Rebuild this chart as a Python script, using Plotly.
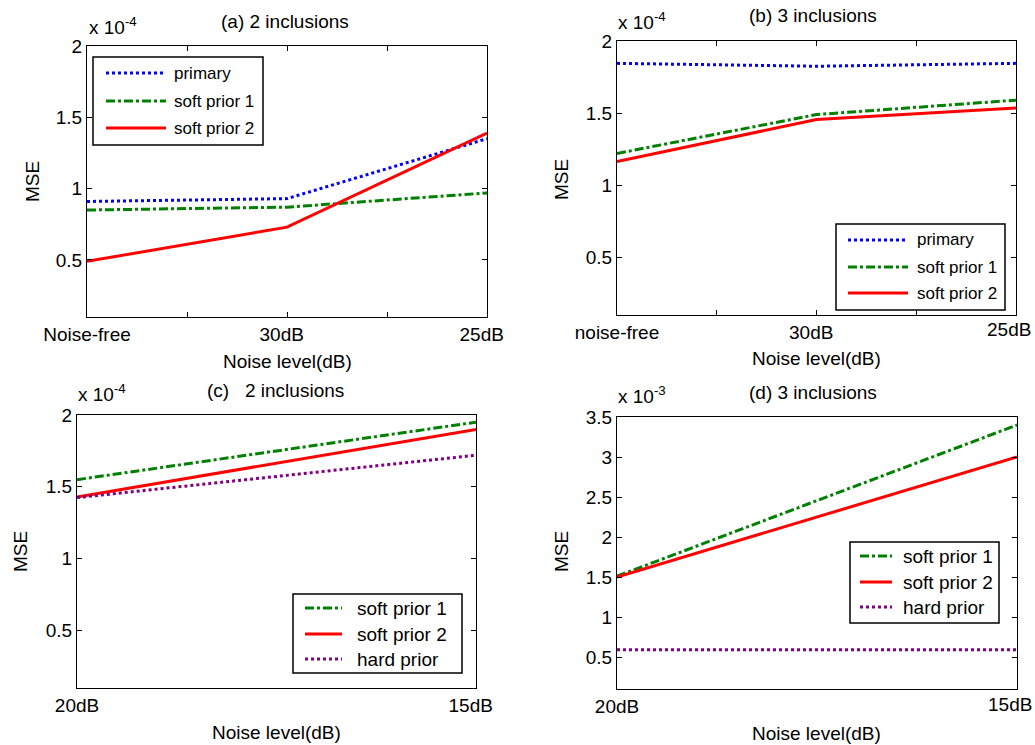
import plotly.graph_objects as go
import numpy as np

# ---------------- data ----------------
NB = "\u00a0"
x_ab = [1, 2, 3]
x_ab_minor = [1.5, 2.5]
x_a_labels = ["Noise-free", "30dB" + NB * 2, "25dB" + NB * 2]
x_b_labels = ["noise-free", "30dB" + NB * 2, "25dB"]
x_cd = [1, 2]
x_c_labels = ["20dB", "15dB" + NB * 2]
x_d_labels = ["20dB", "15dB"]

# (a) 2 inclusions  (MSE)
a_primary = [0.91e-4, 0.93e-4, 1.35e-4]
a_soft1 = [0.85e-4, 0.87e-4, 0.97e-4]
a_soft2 = [0.49e-4, 0.73e-4, 1.39e-4]
# (b) 3 inclusions
b_primary = [1.845e-4, 1.825e-4, 1.845e-4]
b_soft1 = [1.22e-4, 1.49e-4, 1.59e-4]
b_soft2 = [1.165e-4, 1.455e-4, 1.535e-4]
# (c) 2 inclusions
c_soft1 = [1.55e-4, 1.95e-4]
c_soft2 = [1.43e-4, 1.90e-4]
c_hard = [1.425e-4, 1.72e-4]
# (d) 3 inclusions
d_soft1 = [1.51e-3, 3.40e-3]
d_soft2 = [1.50e-3, 3.00e-3]
d_hard = [0.59e-3, 0.59e-3]

y_ticks_e4 = [0.5, 1, 1.5, 2]
y_ticks_e3 = [0.5, 1, 1.5, 2, 2.5, 3, 3.5]

FONT = "Liberation Sans, Arial, sans-serif"
FS = 19
W, H = 1035, 745

def px_x(a, b):
    return [a / W, b / W]

def px_y(top, bottom):
    return [1 - bottom / H, 1 - top / H]

dom = {
    "a": (px_x(87, 487), px_y(46, 317)),
    "b": (px_x(617, 1016), px_y(41, 315)),
    "c": (px_x(77, 476), px_y(415, 688)),
    "d": (px_x(617, 1017), px_y(417, 689)),
}

BLUE, GREEN, RED, PURPLE = "#0000FF", "#008000", "#FF0000", "#800080"
styles = {
    "primary": dict(color=BLUE, dash="dot", width=3),
    "soft prior 1": dict(color=GREEN, dash="dashdot", width=3),
    "soft prior 2": dict(color=RED, dash="solid", width=3),
    "hard prior": dict(color=PURPLE, dash="dot", width=3),
}

legend_geom = {
    "a": dict(box=(93, 263, 57, 145), sx=(106, 166), tx=172, rows=(73, 101, 128), fs=17),
    "b": dict(box=(836, 1005, 224, 310), sx=(848, 908), tx=915, rows=(240, 267, 293), fs=17),
    "c": dict(box=(293, 462, 594, 673), sx=(305, 342), tx=355, rows=(608, 634, 659), fs=19),
    "d": dict(box=(850, 999, 542, 623), sx=(860, 892), tx=901, rows=(556, 582, 607), fs=19),
}

fig = go.Figure()

panels = [
    ("a", "", 1e-4, x_ab, [("primary", a_primary), ("soft prior 1", a_soft1), ("soft prior 2", a_soft2)]),
    ("b", "2", 1e-4, x_ab, [("primary", b_primary), ("soft prior 1", b_soft1), ("soft prior 2", b_soft2)]),
    ("c", "3", 1e-4, x_cd, [("soft prior 1", c_soft1), ("soft prior 2", c_soft2), ("hard prior", c_hard)]),
    ("d", "4", 1e-3, x_cd, [("soft prior 1", d_soft1), ("soft prior 2", d_soft2), ("hard prior", d_hard)]),
]

for key, s, scale, xv, series in panels:
    for name, vals in series:
        fig.add_trace(go.Scatter(
            x=xv, y=np.array(vals) / scale, mode="lines", name=name,
            line=styles[name], xaxis="x" + s, yaxis="y" + s, showlegend=False,
        ))

axis_common = dict(
    showline=True, linecolor="black", linewidth=1, mirror="allticks",
    ticks="inside", ticklen=5, tickcolor="black", showgrid=False, zeroline=False,
    automargin=False,
    tickfont=dict(family=FONT, size=FS, color="black"),
)
minor_ab = dict(tickmode="array", tickvals=x_ab_minor, ticks="inside", ticklen=5,
                tickcolor="black", showgrid=False)

def fmt(v):
    return ("%g" % v)

layout = dict(
    template="none", showlegend=False,
    width=W, height=H, margin=dict(l=0, r=0, t=0, b=0, autoexpand=False),
    plot_bgcolor="white", paper_bgcolor="white",
    font=dict(family=FONT, color="black", size=FS),
)

# the rightmost tick labels of (b) and (d) are drawn as annotations (shifted left like the reference)
layout["xaxis"] = dict(domain=dom["a"][0], anchor="y", range=[1, 3], tickmode="array",
                       tickvals=x_ab, ticktext=x_a_labels, minor=minor_ab, **axis_common)
layout["xaxis2"] = dict(domain=dom["b"][0], anchor="y2", range=[1, 3], tickmode="array",
                        tickvals=x_ab[:-1], ticktext=x_b_labels[:-1], minor=minor_ab, **axis_common)
layout["xaxis3"] = dict(domain=dom["c"][0], anchor="y3", range=[1, 2], tickmode="array",
                        tickvals=x_cd, ticktext=x_c_labels, **axis_common)
layout["xaxis4"] = dict(domain=dom["d"][0], anchor="y4", range=[1, 2], tickmode="array",
                        tickvals=x_cd[:-1], ticktext=x_d_labels[:-1], **axis_common)
layout["yaxis"] = dict(domain=dom["a"][1], anchor="x", range=[0.1, 2], tickmode="array",
                       tickvals=y_ticks_e4, ticktext=[fmt(v) for v in y_ticks_e4], **axis_common)
layout["yaxis2"] = dict(domain=dom["b"][1], anchor="x2", range=[0.1, 2], tickmode="array",
                        tickvals=y_ticks_e4, ticktext=[fmt(v) for v in y_ticks_e4], **axis_common)
layout["yaxis3"] = dict(domain=dom["c"][1], anchor="x3", range=[0.1, 2], tickmode="array",
                        tickvals=y_ticks_e4, ticktext=[fmt(v) for v in y_ticks_e4], **axis_common)
layout["yaxis4"] = dict(domain=dom["d"][1], anchor="x4", range=[0.1, 3.5], tickmode="array",
                        tickvals=y_ticks_e3, ticktext=[fmt(v) for v in y_ticks_e3], **axis_common)

fig.update_layout(**layout)

ann = []
shapes = []

def px(xp, yp):
    return xp / W, 1 - yp / H

def text(xpx, ypx, s, size=FS, angle=0, xanchor="center", yanchor="middle"):
    x, y = px(xpx, ypx)
    ann.append(dict(x=x, y=y, xref="paper", yref="paper", text=s,
                    showarrow=False, font=dict(family=FONT, size=size, color="black"),
                    textangle=angle, xanchor=xanchor, yanchor=yanchor))

# last x tick labels of (b) and (d)
for xr, xval, lab, ypx in [("x2", x_ab[-1], x_b_labels[-1], 329), ("x4", x_cd[-1], x_d_labels[-1], 704)]:
    ann.append(dict(x=xval, xref=xr, y=1 - ypx / H, yref="paper", text=lab, showarrow=False,
                    xanchor="center", yanchor="middle", xshift=-7,
                    font=dict(family=FONT, size=FS, color="black")))

# manual legends
for key, s, scale, xv, series in panels:
    g = legend_geom[key]
    l, r, t, b = g["box"]
    x0, y0 = px(l, b)
    x1, y1 = px(r, t)
    shapes.append(dict(type="rect", xref="paper", yref="paper", x0=x0, x1=x1, y0=y0, y1=y1,
                       line=dict(color="black", width=1.5), fillcolor="white", layer="above"))
    for (name, _), ry in zip(series, g["rows"]):
        sx0, sy = px(g["sx"][0], ry)
        sx1, _ = px(g["sx"][1], ry)
        st = styles[name]
        shapes.append(dict(type="line", xref="paper", yref="paper", x0=sx0, x1=sx1, y0=sy, y1=sy,
                           line=dict(color=st["color"], dash=st["dash"], width=st["width"]),
                           layer="above"))
        text(g["tx"], ry, name, size=g["fs"], xanchor="left")

# titles
text(285, 21, "(a) 2 inclusions")
text(813, 16, "(b) 3 inclusions")
text(275, 390, "(c)   2 inclusions")
text(813, 392, "(d) 3 inclusions")
# exponent labels
text(87, 26, "x 10<sup>-4</sup>", xanchor="left")
text(616, 21, "x 10<sup>-4</sup>", xanchor="left")
text(76, 393, "x 10<sup>-4</sup>", xanchor="left")
text(616, 395, "x 10<sup>-3</sup>", xanchor="left")
# axis titles
text(287, 362, "Noise level(dB)")
text(816, 358, "Noise level(dB)")
text(276, 732, "Noise level(dB)")
text(816, 733, "Noise level(dB)")
text(32, 182, "MSE", angle=-90)
text(561, 180, "MSE", angle=-90)
text(20, 552, "MSE", angle=-90)
text(561, 552, "MSE", angle=-90)

fig.update_layout(annotations=ann, shapes=shapes)
fig.write_html("out.html")
